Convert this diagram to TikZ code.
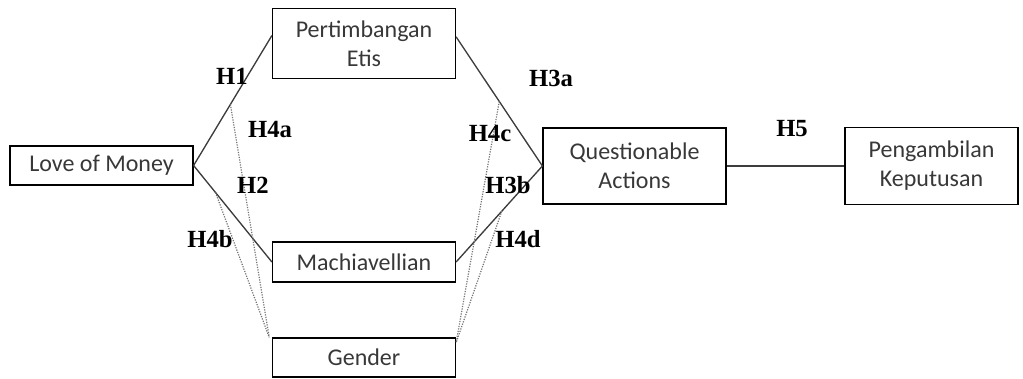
\documentclass[tikz,border=0pt]{standalone}
\usepackage{fontspec}
\setmainfont{Liberation Serif}
\newfontfamily\boxfont{Carlito}
\usepackage{xcolor}
\usetikzlibrary{calc}

\definecolor{boxtext}{HTML}{383838}
\definecolor{linegray}{HTML}{3C3C3C}

\tikzset{
    varbox/.style={draw=black, line width=0.9pt, minimum width=137.25pt, align=center,
        inner sep=0pt, text=boxtext, font=\boxfont\fontsize{18}{21.75}\selectfont},
    hlabel/.style={font=\bfseries\fontsize{18.5}{18.5}\selectfont, inner sep=0pt},
    path/.style={draw=linegray, line width=1pt},
    moderasi/.style={draw=gray!90!black, densely dotted, line width=0.9pt}
}

\begin{document}
\begin{tikzpicture}[x=0.75pt, y=-0.75pt]
            \useasboundingbox (0,0) rectangle (1023,378);

            \node[varbox, minimum height=29.25pt] (lom) at (101.5, 165.5) {Love of Money};
            \node[varbox, minimum height=52.5pt] (pe) at (364, 43.5) {Pertimbangan\\Etis};
            \node[varbox, minimum height=30pt] (mach) at (364, 262) {Machiavellian};
            \node[varbox, minimum height=29.25pt] (gender) at (364, 357.5) {Gender};
            \node[varbox, minimum height=57pt] (qa) at (634.5, 166) {Questionable\\Actions};
            \node[varbox, minimum height=57.75pt, minimum width=129.75pt] (pk) at (931.5, 166) {Pengambilan\\Keputusan};

            \draw[path] (lom.east) -- ([yshift=6pt]pe.west) coordinate[pos=0.47] (h4a);
            \draw[path] (lom.east) -- (mach.west) coordinate[pos=0.28] (h4b);
            \draw[path] ([yshift=5pt]pe.east) -- (qa.west) coordinate[pos=0.5] (h4c);
            \draw[path] (mach.east) -- (qa.west) coordinate[pos=0.53] (h4d);
            \draw[path] (qa.east) -- (pk.west);

            \draw[moderasi] (h4a) -- ([xshift=-2pt]gender.north west);
            \draw[moderasi] (h4b) -- ([xshift=-2pt]gender.north west);
            \draw[moderasi] (h4c) -- ([yshift=-4pt]gender.north east);
            \draw[moderasi] (h4d) -- ([yshift=-4pt]gender.north east);

            \node[hlabel] (l1) at (232, 76) {H1};
            \node[hlabel] (l4a) at (270, 130) {H4a};
            \node[hlabel] (l2) at (253, 185) {H2};
            \node[hlabel] (l4b) at (210, 239) {H4b};
            \node[hlabel] (l3a) at (551, 78) {H3a};
            \node[hlabel] (l4c) at (490, 133) {H4c};
            \node[hlabel] (l3b) at (508, 185) {H3b};
            \node[hlabel] (l4d) at (518, 239) {H4d};
            \node[hlabel] (l5) at (792, 129) {H5};
        \end{tikzpicture}
\end{document}
